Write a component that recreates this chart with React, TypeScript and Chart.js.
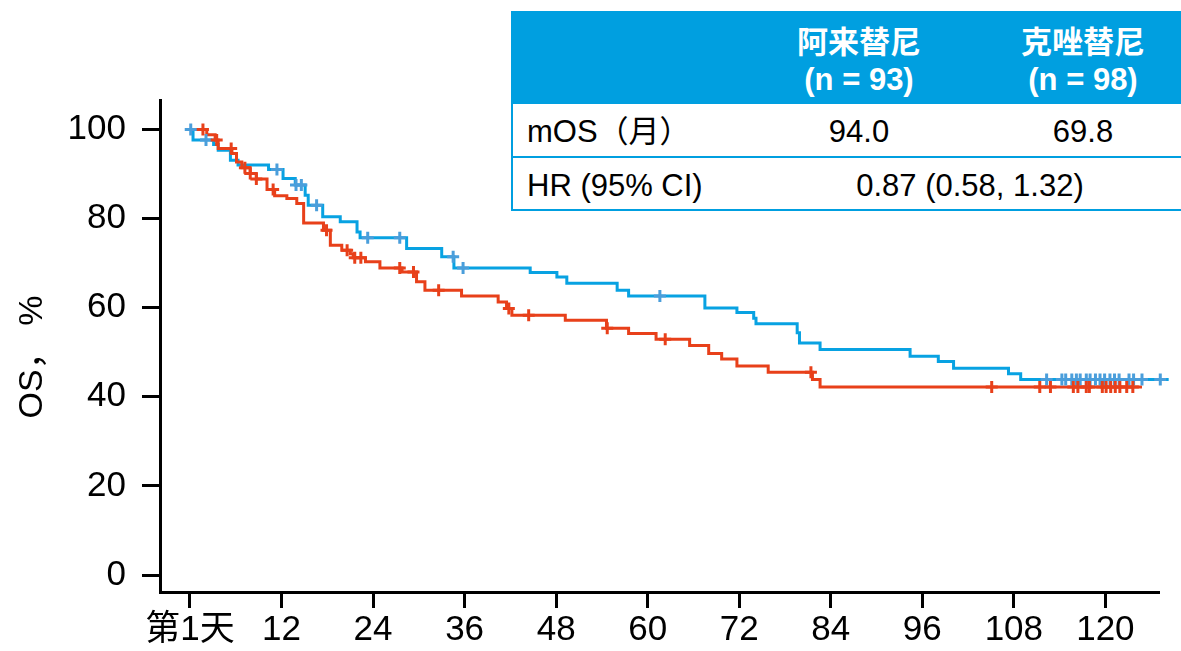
import React, { useEffect, useRef } from 'react';
import { Chart, registerables } from 'chart.js';

Chart.register(...registerables);

// ---------- data ----------
const xTickValues = [0, 12, 24, 36, 48, 60, 72, 84, 96, 108, 120];
const xTickLabels = ['第1天', '12', '24', '36', '48', '60', '72', '84', '96', '108', '120'];
const yTickValues = [0, 20, 40, 60, 80, 100];
const yTitle = 'OS， %';

const seriesNames = ['阿来替尼', '克唑替尼'];
const seriesN = ['(n = 93)', '(n = 98)'];
const mosLabel = 'mOS（月）';
const mosValues = ['94.0', '69.8'];
const hrLabel = 'HR (95% CI)';
const hrValue = '0.87 (0.58, 1.32)';

// Alectinib (blue): time (months) at which the curve steps to the survival value
const alectinibTimes = [0, 0.4, 3.1, 3.7, 5.3, 6.3, 10.3, 12.2, 13.8, 15.1, 15.5, 17.4, 19.7, 21.9, 22.3, 28.4, 33.0, 34.6, 44.6, 48.1, 49.4, 56.0, 57.5, 67.5, 71.7, 73.9, 74.2, 79.6, 79.9, 82.6, 94.4, 98.1, 100.1, 107.3, 108.9, 128.3];
const alectinibSurvival = [100, 97.6, 96.6, 95.3, 93.1, 92.0, 91.0, 89.0, 87.5, 85.2, 83.0, 80.4, 79.3, 77.0, 75.7, 73.3, 71.4, 68.9, 67.9, 66.9, 65.5, 63.9, 62.6, 59.9, 58.9, 57.6, 56.4, 54.4, 52.1, 50.6, 49.1, 47.9, 46.4, 45.2, 43.9, 43.9];
const alectinibCensorTimes = [0.1, 2.1, 11.4, 13.9, 14.6, 16.6, 23.3, 27.5, 34.5, 35.8, 61.6, 112.3, 114.3, 114.8, 115.6, 116.2, 116.7, 117.5, 118.0, 118.7, 119.3, 119.9, 120.6, 121.2, 121.8, 123.1, 123.7, 124.8, 127.2];

// Crizotinib (red)
const crizotinibTimes = [0, 2.2, 3.3, 3.7, 5.5, 6.1, 6.8, 7.9, 8.7, 10.1, 11.1, 12.7, 14.0, 14.9, 17.5, 18.4, 19.9, 21.0, 21.4, 23.0, 24.9, 27.8, 29.7, 30.8, 35.6, 40.4, 41.5, 42.2, 49.2, 54.6, 57.5, 61.1, 65.5, 68.0, 69.7, 71.7, 75.8, 81.6, 82.6, 124.8];
const crizotinibSurvival = [100, 98.8, 97.6, 95.7, 94.6, 92.7, 91.4, 90.1, 88.9, 86.5, 85.1, 84.5, 83.4, 79.0, 77.4, 74.0, 72.9, 72.1, 71.2, 70.3, 68.9, 68.0, 65.8, 63.9, 62.6, 61.3, 59.8, 58.3, 57.2, 55.4, 54.2, 52.9, 51.5, 49.7, 48.5, 46.9, 45.5, 43.9, 42.2, 42.2];
const crizotinibCensorTimes = [1.7, 3.5, 5.4, 7.2, 7.9, 8.7, 10.9, 17.9, 20.6, 21.6, 22.4, 27.5, 29.3, 32.6, 41.8, 44.4, 54.7, 62.3, 81.4, 105.1, 111.4, 112.8, 115.8, 116.4, 117.5, 117.9, 119.6, 120.1, 120.7, 121.3, 121.9, 122.8, 123.6];

// ---------- helpers ----------
const steps = (times: number[], vals: number[]) => times.map((t, i) => ({ x: t, y: vals[i] }));
const valueAt = (times: number[], vals: number[], t: number) => {
  let v = vals[0];
  for (let i = 0; i < times.length; i++) {
    if (times[i] <= t) v = vals[i];
  }
  return v;
};
const censors = (ct: number[], times: number[], vals: number[]) =>
  ct.map((t) => ({ x: t, y: valueAt(times, vals, t) }));

const BLUE = '#08a2e2';
const BLUE_CENSOR = '#4a9edb';
const RED = '#e8401a';
const HEADER_BG = '#009fe0';
const FONT = "'Liberation Sans', Arial, 'Noto Sans CJK SC', sans-serif";
const TICK_SIZE = 35;

const yTitlePlugin = {
  id: 'yTitlePlugin',
  afterDraw(chart: any) {
    const ctx = chart.ctx;
    const area = chart.chartArea;
    ctx.save();
    ctx.translate(33, (area.top + area.bottom) / 2 + 11);
    ctx.rotate(-Math.PI / 2);
    ctx.font = `34px ${FONT}`;
    ctx.fillStyle = '#000';
    ctx.textAlign = 'center';
    ctx.textBaseline = 'middle';
    ctx.fillText(yTitle, 0, 0);
    ctx.restore();
  },
};

export default function App() {
  const canvasRef = useRef<HTMLCanvasElement | null>(null);

  useEffect(() => {
    document.body.style.margin = '0';
    const canvas = canvasRef.current;
    if (!canvas) return;
    const chart = new Chart(canvas, {
      type: 'line',
      data: {
        datasets: [
          {
            type: 'scatter',
            label: seriesNames[1] + ' censor',
            data: censors(crizotinibCensorTimes, crizotinibTimes, crizotinibSurvival),
            pointStyle: 'cross',
            pointRadius: 6,
            pointBorderWidth: 3,
            borderColor: RED,
            backgroundColor: RED,
            showLine: false,
            clip: false,
            order: 0,
          } as any,
          {
            type: 'scatter',
            label: seriesNames[0] + ' censor',
            data: censors(alectinibCensorTimes, alectinibTimes, alectinibSurvival),
            pointStyle: 'cross',
            pointRadius: 6,
            pointBorderWidth: 3,
            borderColor: BLUE_CENSOR,
            backgroundColor: BLUE_CENSOR,
            showLine: false,
            clip: false,
            order: 1,
          } as any,
          {
            label: seriesNames[1],
            data: steps(crizotinibTimes, crizotinibSurvival),
            stepped: 'before',
            borderColor: RED,
            borderWidth: 3,
            pointRadius: 0,
            fill: false,
            clip: false,
            order: 2,
          } as any,
          {
            label: seriesNames[0],
            data: steps(alectinibTimes, alectinibSurvival),
            stepped: 'before',
            borderColor: BLUE,
            borderWidth: 3,
            pointRadius: 0,
            fill: false,
            clip: false,
            order: 3,
          } as any,
        ],
      },
      options: {
        animation: false,
        responsive: false,
        events: [],
        layout: { padding: { top: 100, right: 23, left: 0, bottom: 0 } },
        plugins: {
          legend: { display: false },
          tooltip: { enabled: false },
        },
        scales: {
          x: {
            type: 'linear',
            min: -3.93,
            max: 126.9,
            afterBuildTicks: (scale: any) => {
              scale.ticks = xTickValues.map((v) => ({ value: v }));
            },
            afterFit: (scale: any) => {
              scale.height = 59;
            },
            ticks: {
              color: '#000',
              font: { family: FONT, size: TICK_SIZE },
              padding: 1,
              maxRotation: 0,
              autoSkip: false,
              callback: (value: any) => {
                const i = xTickValues.indexOf(Number(value));
                return i >= 0 ? xTickLabels[i] : '';
              },
            },
            grid: {
              drawOnChartArea: false,
              color: '#000',
              lineWidth: 3,
              tickLength: 16,
            },
            border: { display: true, color: '#000', width: 3 },
          },
          y: {
            type: 'linear',
            min: -3.8,
            max: 106.6,
            afterBuildTicks: (scale: any) => {
              scale.ticks = yTickValues.map((v) => ({ value: v }));
            },
            afterFit: (scale: any) => {
              scale.width = 160;
            },
            ticks: {
              color: '#000',
              font: { family: FONT, size: TICK_SIZE },
              padding: 16,
              autoSkip: false,
              callback: (value: any) => String(value),
            },
            grid: {
              drawOnChartArea: false,
              color: '#000',
              lineWidth: 3,
              tickLength: 18,
            },
            border: { display: true, color: '#000', width: 3 },
          },
        },
      } as any,
      plugins: [yTitlePlugin],
    });
    return () => chart.destroy();
  }, []);

  const cellText: React.CSSProperties = {
    position: 'absolute',
    transform: 'translate(-50%, -50%)',
    whiteSpace: 'nowrap',
    fontFamily: FONT,
    fontSize: 31,
    lineHeight: 1,
    color: '#000',
  };
  const headText: React.CSSProperties = { ...cellText, color: '#fff', fontWeight: 'bold' };
  const leftText: React.CSSProperties = { ...cellText, transform: 'translate(0, -50%)' };

  return (
    <div style={{ position: 'relative', width: 1181, height: 651, overflow: 'hidden', background: '#fff' }}>
      <canvas ref={canvasRef} width={1181} height={651} style={{ position: 'absolute', left: 0, top: 0 }} />
      <div
        style={{
          position: 'absolute',
          left: 511,
          top: 11,
          width: 680,
          height: 200,
          boxSizing: 'border-box',
          borderLeft: `2px solid ${HEADER_BG}`,
          background: '#fff',
        }}
      >
        <div style={{ position: 'absolute', left: 0, top: 0, width: '100%', height: 93, background: HEADER_BG }} />
        <div style={{ position: 'absolute', left: 0, top: 145, width: '100%', height: 2, background: HEADER_BG }} />
        <div style={{ position: 'absolute', left: 0, top: 198, width: '100%', height: 2, background: HEADER_BG }} />
      </div>
      <span style={{ ...headText, left: 859, top: 42 }}>{seriesNames[0]}</span>
      <span style={{ ...headText, left: 859, top: 79 }}>{seriesN[0]}</span>
      <span style={{ ...headText, left: 1083, top: 42 }}>{seriesNames[1]}</span>
      <span style={{ ...headText, left: 1083, top: 79 }}>{seriesN[1]}</span>
      <span style={{ ...leftText, left: 527, top: 131 }}>{mosLabel}</span>
      <span style={{ ...cellText, left: 859, top: 131 }}>{mosValues[0]}</span>
      <span style={{ ...cellText, left: 1083, top: 131 }}>{mosValues[1]}</span>
      <span style={{ ...leftText, left: 527, top: 185 }}>{hrLabel}</span>
      <span style={{ ...cellText, left: 970, top: 185 }}>{hrValue}</span>
    </div>
  );
}
